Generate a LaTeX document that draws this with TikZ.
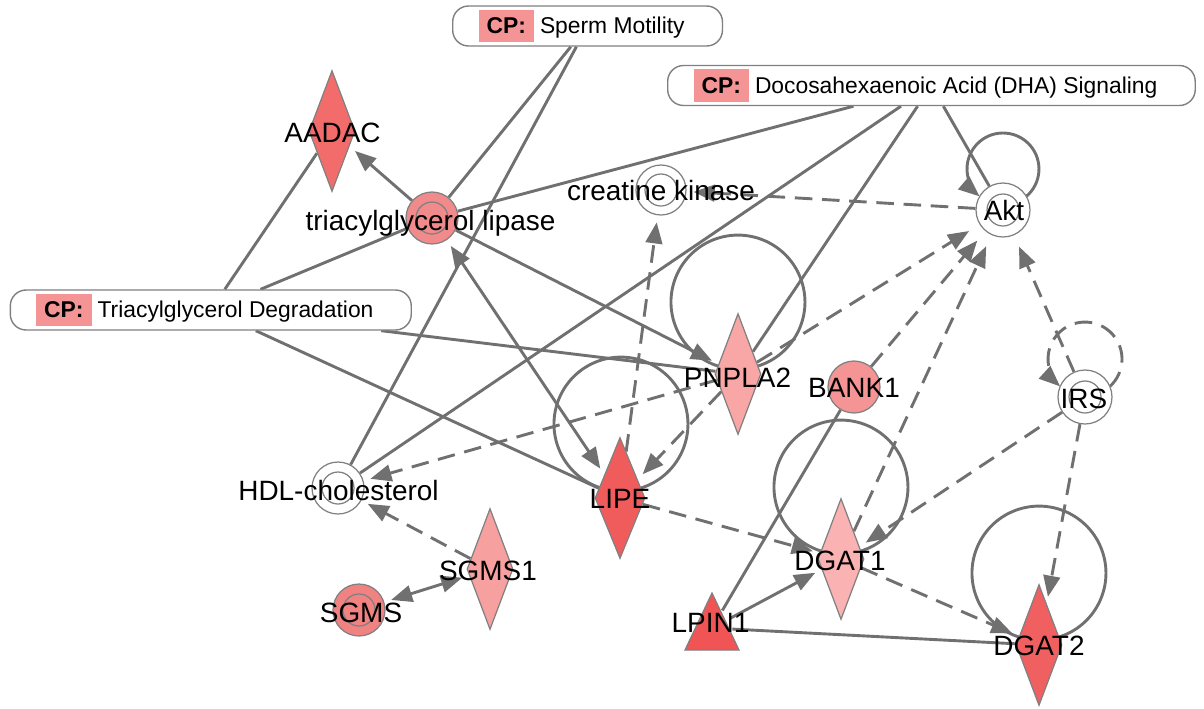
\documentclass[tikz,border=0pt]{standalone}
\usepackage{fontspec}
\setmainfont{Liberation Sans}
\usetikzlibrary{arrows.meta,shapes.geometric,calc}
\pgfdeclarelayer{background}
\pgfsetlayers{background,main}
\definecolor{lgray}{RGB}{112,112,112}
\definecolor{ogray}{RGB}{128,128,128}
\definecolor{cpred}{RGB}{245,148,148}
\definecolor{aadacC}{RGB}{242,108,108}
\definecolor{lipaseC}{RGB}{241,138,138}
\definecolor{pnplaC}{RGB}{249,166,166}
\definecolor{lipeC}{RGB}{240,92,92}
\definecolor{bankC}{RGB}{244,148,148}
\definecolor{dgaIC}{RGB}{250,178,178}
\definecolor{dgaIIC}{RGB}{240,96,96}
\definecolor{lpinC}{RGB}{240,84,84}
\definecolor{sgmsIC}{RGB}{247,160,160}
\definecolor{sgmsC}{RGB}{240,130,130}
\newcommand{\cpmark}{{\setlength{\fboxsep}{4.6pt}\colorbox{cpred}{\textbf{CP:}}}\hspace{3.4pt}}
\newcommand{\cpend}{\kern6.8pt\relax}
\begin{document}
\begin{tikzpicture}[x=0.02cm,y=-0.02cm,
  ln/.style={draw=lgray,line width=1.65pt},
  dsh/.style={ln,dash pattern=on 10pt off 5.5pt},
  arr/.style={-{Triangle[length=12pt,width=9.5pt]},shorten >=4pt},
  arrk/.style={-{Triangle[length=12pt,width=9.5pt]},shorten >=7pt},
  darr/.style={{Triangle[length=12pt,width=9.5pt]}-{Triangle[length=12pt,width=9.5pt]},shorten >=4pt,shorten <=4pt},
  loopar/.style={-{Triangle[length=12pt,width=9.5pt]}},
  gdia/.style={diamond,draw=ogray,line width=0.7pt,minimum width=0.92cm,minimum height=2.42cm,inner sep=0pt},
  gcirc/.style={circle,draw=ogray,line width=0.7pt,minimum size=1.04cm,inner sep=0pt},
  ring/.style={path picture={\draw[ogray,line width=0.7pt] (path picture bounding box.center) circle[radius=0.32cm];}},
  lbl/.style={font=\fontsize{15.9}{19}\selectfont,inner sep=0pt,anchor=base,text=black},
  cpbox/.style={draw=ogray,line width=0.8pt,fill=white,rounded corners=9pt,minimum height=0.8cm,inner xsep=14.7pt,inner ysep=0pt,anchor=west,font=\fontsize{13}{15}\selectfont},
]
\useasboundingbox (0,0) rectangle (1204,708);

% gene nodes
\node[gdia,fill=aadacC] (aadac) at (332,131) {};
\node[gcirc,ring,fill=lipaseC] (lipase) at (432,218) {};
\node[gcirc,ring,fill=white,minimum size=1.0cm] (ck) at (661,190) {};
\node[gcirc,ring,fill=white,minimum size=1.08cm] (akt) at (1003,210) {};
\node[gdia,fill=pnplaC] (pn) at (738,374) {};
\node[gdia,fill=lipeC,minimum width=1.0cm] (lipe) at (620,498) {};
\node[gcirc,fill=bankC] (bank) at (854,387) {};
\node[gcirc,ring,fill=white,minimum size=1.08cm] (irs) at (1085,397) {};
\node[gcirc,ring,fill=white] (hdl) at (338,488) {};
\node[gdia,fill=dgaIC] (dgat1) at (841,559) {};
\node[gdia,fill=dgaIIC] (dgat2) at (1039,645) {};
\node[circle,minimum size=0.8cm,inner sep=0pt] (lpin) at (712,628) {};
\filldraw[fill=lpinC,draw=ogray,line width=0.7pt] ($(lpin)+(0,-35)$) -- ++(27,57) -- ++(-54,0) -- cycle;
\node[gdia,fill=sgmsIC] (sgms1) at (490,569) {};
\node[gcirc,ring,fill=sgmsC] (sgms) at (359,610) {};

% canonical pathway boxes
\node[cpbox] (sperm) at (452,26) {\cpmark Sperm Motility\cpend};
\node[cpbox] (dha) at (667,85.5) {\cpmark Docosahexaenoic Acid (DHA) Signaling\cpend};
\node[cpbox] (deg) at (9.6,310) {\cpmark Triacylglycerol Degradation\cpend};

% labels
\node[lbl] (aadac-l) at (332.5,142) {AADAC};
\node[lbl] (lipase-l) at (430.5,230) {triacylglycerol lipase};
\node[lbl] (ck-l) at (661,200) {creatine kinase};
\node[lbl] (akt-l) at (1004,220) {Akt};
\node[lbl] (pn-l) at (737.5,387) {PNPLA2};
\node[lbl] (bank-l) at (854,397) {BANK1};
\node[lbl] (irs-l) at (1084,408) {IRS};
\node[lbl] (lipe-l) at (620,508) {LIPE};
\node[lbl] (hdl-l) at (338.5,500) {HDL-cholesterol};
\node[lbl] (dgat1-l) at (840,570) {DGAT1};
\node[lbl] (dgat2-l) at (1039,655) {DGAT2};
\node[lbl] (lpin-l) at (710.5,632) {LPIN1};
\node[lbl] (sgms1-l) at (488,580) {SGMS1};
\node[lbl] (sgms-l) at (361,622) {SGMS};

\begin{pgfonlayer}{background}
% pathway membership lines
\draw[ln] (sperm) -- (lipase);
\draw[ln] (sperm) -- (hdl);
\draw[ln] (dha) -- (lipase);
\draw[ln] (dha) -- (hdl);
\draw[ln] (dha) -- (pn);
\draw[ln] (dha) -- (akt);
\draw[ln] (deg) -- (aadac);
\draw[ln] (deg) -- (lipase);
\draw[ln] (deg) -- (lipe);
\draw[ln] (deg) -- (pn);
% relationships
\draw[ln,arr] (lipase) -- (aadac);
\draw[ln,arr] (lipase) -- (pn);
\draw[ln,darr] (lipase) -- (lipe);
\draw[dsh,arr] (lipe) -- (ck);
\draw[dsh,arr] (akt) -- (ck);
\draw[dsh,arr] (pn) -- (lipe);
\draw[dsh,arr] (pn) -- (hdl);
\draw[dsh,arrk] (pn) -- (akt);
\draw[dsh,arrk] (bank) -- (akt);
\draw[dsh,arrk] (dgat1) -- (akt);
\draw[dsh,arrk] (irs) -- (akt);
\draw[dsh,arr] (irs) -- (dgat1);
\draw[dsh,arr] (irs) -- (dgat2);
\draw[dsh,arr] (lipe) -- (dgat1);
\draw[dsh,arr] (dgat1) -- (dgat2);
\draw[ln,arr] (lpin) -- (dgat1);
\draw[ln] (lpin) -- (dgat2);
\draw[ln] (bank) -- (lpin);
\draw[dsh,arr] (sgms1) -- (hdl);
\draw[ln,darr] (sgms) -- (sgms1);
% self loops
\draw[ln] ($(pn)+(20,-8)$) arc[start angle=-72.6,end angle=252.6,radius=1.34cm];
\draw[ln] ($(lipe)+(21,-10)$) arc[start angle=-72.6,end angle=252.6,radius=1.34cm];
\draw[ln] ($(dgat1)+(20,-8)$) arc[start angle=-72.6,end angle=252.6,radius=1.34cm];
\draw[ln] ($(dgat2)+(20,-8)$) arc[start angle=-72.6,end angle=252.6,radius=1.34cm];
\draw[ln,loopar] ($(akt)+(23.3,-13.6)$) arc[start angle=-49.6,end angle=229.6,radius=0.72cm];
\draw[dsh,loopar] ($(irs)+(24.9,-10.6)$) arc[start angle=-47.7,end angle=227.7,radius=0.74cm];
\end{pgfonlayer}
\end{tikzpicture}
\end{document}
